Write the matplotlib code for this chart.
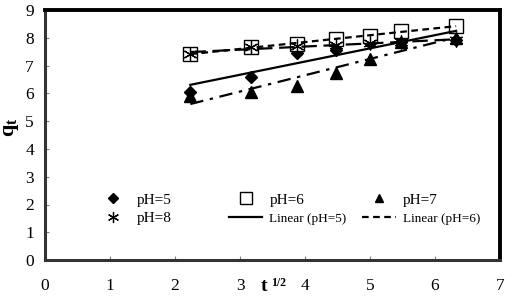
import numpy as np
import matplotlib
matplotlib.use("Agg")
from matplotlib import pyplot as plt
from matplotlib.legend import Legend

plt.rcParams['font.family'] = ['Liberation Serif', 'DejaVu Serif']
plt.rcParams['mathtext.fontset'] = 'custom'
plt.rcParams['mathtext.rm'] = 'Liberation Serif'
plt.rcParams['mathtext.bf'] = 'Liberation Serif:bold'

# t^1/2 values
t_half = [2.236, 3.162, 3.873, 4.472, 5.0, 5.477, 6.325]

q_ph5 = [6.05, 6.60, 7.45, 7.55, 7.80, 7.85, 7.90]
q_ph6 = [7.42, 7.67, 7.77, 7.94, 8.05, 8.25, 8.43]
q_ph7 = [5.90, 6.05, 6.27, 6.72, 7.25, 7.85, 8.00]
q_ph8 = [7.42, 7.65, 7.70, 7.72, 7.80, 7.85, 7.92]

x = np.array(t_half)

fig = plt.figure(figsize=(5.19, 3.0), dpi=100)
ax = fig.add_axes([0.0867, 0.133, 0.8767, 0.834])

h5, = ax.plot(x, q_ph5, 'D', color='black', ms=6.5, ls='none')
h6, = ax.plot(x, q_ph6, 's', mfc='white', mec='black', ms=10, mew=1.0, ls='none')
h7, = ax.plot(x, q_ph7, '^', color='black', ms=8, ls='none')
h8, = ax.plot(x, q_ph8, marker=(6, 2, 0), color='black', ms=10, mew=0.9, ls='none')

# linear trend lines
styles = [(q_ph5, '-'), (q_ph6, (0, (3, 2))), (q_ph7, (0, (6, 3, 1.5, 3))), (q_ph8, (0, (7, 3)))]
lines = []
for q, st in styles:
    k, b = np.polyfit(x, q, 1)
    l, = ax.plot([x[0], x[-1]], [k * x[0] + b, k * x[-1] + b], color='black', lw=1.6, ls=st)
    lines.append(l)

ax.set_xlim(0, 7)
ax.set_ylim(0, 9)
ax.set_xticks(range(0, 8))
ax.set_yticks(range(0, 10))
ax.tick_params(direction='in', length=3, width=0.8, color='#808080', labelsize=12.5)
ax.tick_params(axis='x', pad=13)
ax.tick_params(axis='y', pad=8)

for s in ['top', 'right']:
    ax.spines[s].set_linewidth(2.8)
    ax.spines[s].set_color('black')
for s in ['left', 'bottom']:
    ax.spines[s].set_linewidth(2.2)
    ax.spines[s].set_color('#333333')

ax.set_ylabel(r'$\mathbf{q}_{\mathbf{t}}$', fontsize=16)
ax.yaxis.set_label_coords(-0.052, 0.53)
fig.text(0.503, 0.045, 't', fontsize=14, fontweight='bold', ha='left', va='center')
fig.text(0.523, 0.058, '1/2', fontsize=8.5, fontweight='bold', ha='left', va='center')

cols = [([h5, h8], ['pH=5', 'pH=8'], 0.112),
        ([h6, lines[0]], ['pH=6', 'Linear (pH=5)'], 0.404),
        ([h7, lines[1]], ['pH=7', 'Linear (pH=6)'], 0.697)]
for hs, labs, xpos in cols:
    leg = Legend(ax, hs, labs, loc='upper left', bbox_to_anchor=(xpos, 0.268),
                 frameon=False, fontsize=11, handlelength=2.2, borderpad=0,
                 borderaxespad=0, labelspacing=0.3, handletextpad=0.45,
                 markerscale=0.8)
    for t in leg.get_texts():
        if t.get_text().startswith('Linear'):
            t.set_fontsize(9.5)
    ax.add_artist(leg)

fig.savefig('out.png', dpi=100)
